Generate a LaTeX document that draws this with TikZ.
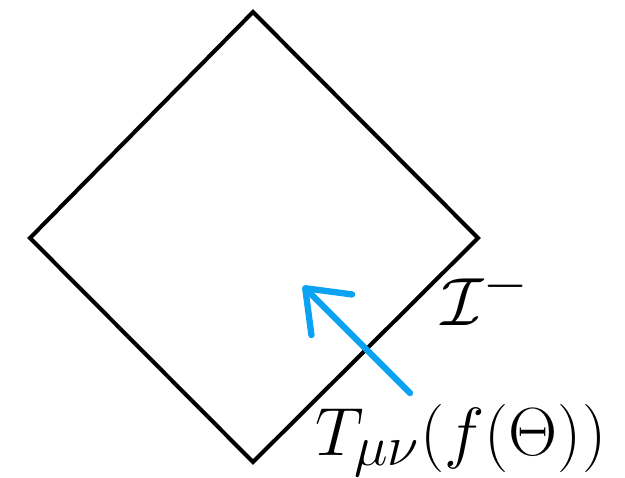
\documentclass[tikz,border=0pt]{standalone}
\usepackage{amsmath,amssymb}
\usepackage{graphicx}
\usepackage{xcolor}
\usepackage{tikz}
\usetikzlibrary{arrows.meta}
\definecolor{SketchBlue}{HTML}{0AA2F2}
\newcommand{\biglab}[1]{\scalebox{1.56}{#1}}

\begin{document}
\begin{tikzpicture}[
  x=0.02cm, y=-0.02cm,
  boundary/.style={draw=black, line width=2.3pt, line join=miter},
  sketcharrow/.style={
    draw=SketchBlue,
    line width=3.6pt,
    line cap=round, line join=round,
    -{Straight Barb[length=0.75cm, width=1.15cm, line width=3.6pt, round]}
  },
  biglabel/.style={inner sep=0pt, font=\Huge}
]
\useasboundingbox (0,0) rectangle (625,477);
% corners of the diamond
\coordinate (top) at (253,12);
\coordinate (left) at (30,238);
\coordinate (bottom) at (253,462);
\coordinate (right) at (478,238);
\draw[boundary] (top) -- (right) -- (bottom) -- (left) -- cycle;
% labels
\node[biglabel, anchor=base west] (scri) at (441,325) {\biglab{$\mathcal{I}^-$}};
\node[biglabel, anchor=base west] (tmn) at (315,455) {\biglab{$T_{\mu\nu}(f(\Theta))$}};
% incoming flux
\coordinate (tail) at (410,393);
\coordinate (tip) at (303,286);
\draw[sketcharrow] (tail) -- (tip);
\end{tikzpicture}
\end{document}
